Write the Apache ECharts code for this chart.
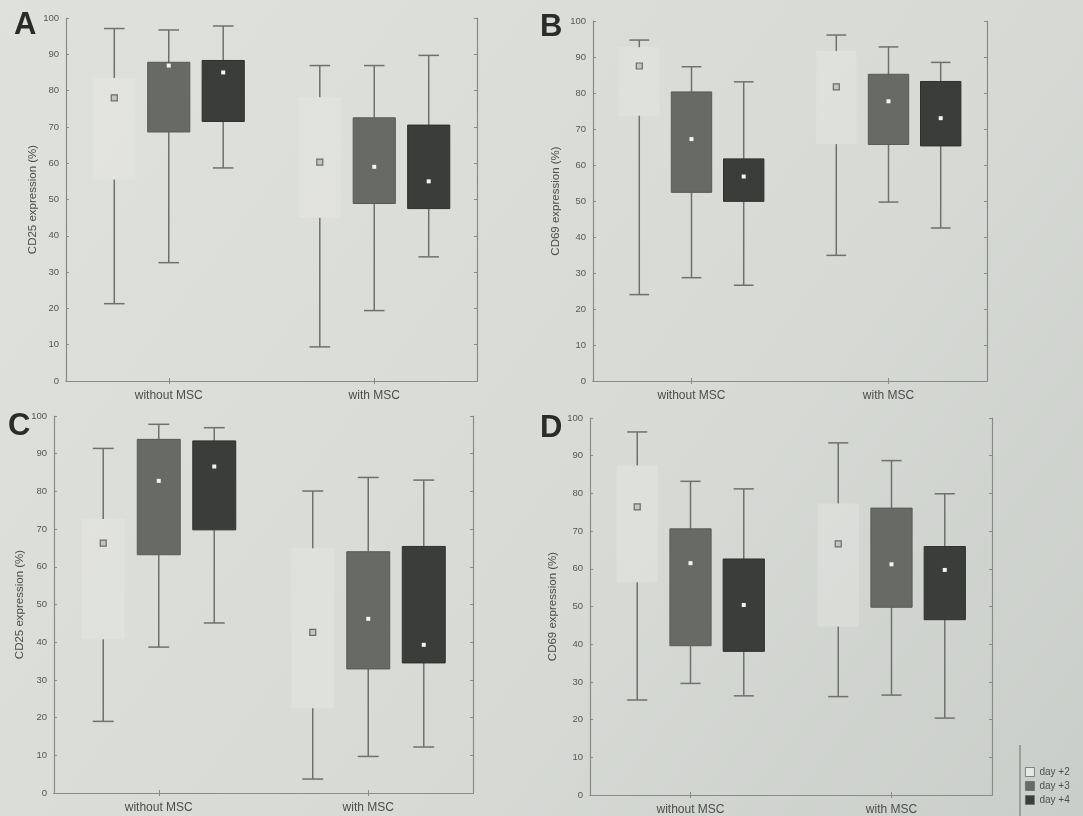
<!DOCTYPE html>
<html>
<head>
<meta charset="utf-8">
<title>CD25 / CD69 expression</title>
<script src="https://cdn.jsdelivr.net/npm/echarts@6/dist/echarts.min.js"></script>
<style>
  html, body { margin: 0; padding: 0; background: #d8dbd6; }
  #chart { width: 1083px; height: 816px; }
</style>
</head>
<body>
<div id="chart"></div>
<script>
// Groups on the category axis and the three culture days (legend entries)
const categories = ['without MSC', 'with MSC'];
const dayNames = ['day +2', 'day +3', 'day +4'];
const yTicks = { min: 0, max: 100, interval: 10 };

// Each box: [min, 25%, median, 75%, max] for "without MSC" then "with MSC"
// Panel A – CD25
const a_day2 = [[21.3, 55.5, 78.0, 83.5, 97.1], [9.4, 45.0, 60.3, 78.2, 86.9]];
const a_day3 = [[32.6, 68.6, 86.9, 87.8, 96.7], [19.4, 48.9, 59.0, 72.5, 86.9]];
const a_day4 = [[58.7, 71.5, 85.0, 88.3, 97.8], [34.2, 47.5, 55.0, 70.5, 89.7]];
// Panel B – CD69
const b_day2 = [[24.0, 73.7, 87.5, 92.7, 94.7], [34.9, 65.8, 81.7, 91.7, 96.1]];
const b_day3 = [[28.7, 52.4, 67.2, 80.3, 87.3], [49.7, 65.7, 77.7, 85.2, 92.8]];
const b_day4 = [[26.6, 49.9, 56.8, 61.7, 83.1], [42.5, 65.3, 73.0, 83.2, 88.5]];
// Panel C – CD25
const c_day2 = [[19.0, 40.8, 66.3, 72.7, 91.4], [3.7, 22.5, 42.6, 64.9, 80.1]];
const c_day3 = [[38.7, 63.2, 82.8, 93.8, 97.8], [9.7, 32.9, 46.2, 64.0, 83.7]];
const c_day4 = [[45.1, 69.8, 86.6, 93.4, 96.9], [12.2, 34.5, 39.3, 65.4, 83.0]];
// Panel D – CD69
const d_day2 = [[25.2, 56.4, 76.4, 87.4, 96.3], [26.1, 44.7, 66.6, 77.3, 93.4]];
const d_day3 = [[29.6, 39.6, 61.5, 70.6, 83.2], [26.5, 49.8, 61.2, 76.1, 88.7]];
const d_day4 = [[26.3, 38.1, 50.4, 62.6, 81.2], [20.4, 46.5, 59.7, 65.9, 79.9]];

const panels = [
  { letter: 'A', title: 'CD25 expression (%)', boxes: [a_day2, a_day3, a_day4],
    grid: { left: 66, top: 18, width: 411, height: 363 }, nameGap: 27, letterPos: [14, 10] },
  { letter: 'B', title: 'CD69 expression (%)', boxes: [b_day2, b_day3, b_day4],
    grid: { left: 593, top: 21, width: 394, height: 360 }, nameGap: 31, letterPos: [540, 12] },
  { letter: 'C', title: 'CD25 expression (%)', boxes: [c_day2, c_day3, c_day4],
    grid: { left: 54, top: 416, width: 419, height: 377 }, nameGap: 28, letterPos: [8, 411] },
  { letter: 'D', title: 'CD69 expression (%)', boxes: [d_day2, d_day3, d_day4],
    grid: { left: 590, top: 418, width: 402, height: 377 }, nameGap: 31, letterPos: [540, 413] }
];

const boxFill = ['rgba(238,240,235,0.3)', '#686a66', '#3b3d3a'];
const boxStroke = ['rgba(0,0,0,0)', '#585a56', '#2e302d'];
const legendFill = ['#e6e8e3', '#686a66', '#3b3d3a'];
const whiskerColor = '#6f716d';
const axisColor = '#8a8c88';
const textColor = '#4c4e4a';

// Draws one box-and-whisker mark per category; slot shifts the box inside the band
function boxRenderer(slot) {
  return function (params, api) {
    const c = api.value(0);
    const band = api.size([1, 0])[0];
    const x = api.coord([c, 0])[0] + (slot - 1) * band * 0.265;
    const y = v => api.coord([c, v])[1];
    const yLo = y(api.value(1)), yQ1 = y(api.value(2)), yMed = y(api.value(3));
    const yQ3 = y(api.value(4)), yHi = y(api.value(5));
    const bw = band * 0.205;
    const cw = band * 0.1;
    const line = { stroke: whiskerColor, lineWidth: 1.5 };
    const marker = slot === 0
      ? { type: 'rect', shape: { x: x - 3, y: yMed - 3, width: 6, height: 6 },
          style: { fill: '#c3c5c0', stroke: '#6a6c68', lineWidth: 1.2 } }
      : { type: 'rect', shape: { x: x - 2, y: yMed - 2, width: 4, height: 4 },
          style: { fill: '#f4f4f0' } };
    return {
      type: 'group',
      children: [
        { type: 'line', shape: { x1: x, y1: yQ3, x2: x, y2: yHi }, style: line },
        { type: 'line', shape: { x1: x - cw / 2, y1: yHi, x2: x + cw / 2, y2: yHi }, style: line },
        { type: 'line', shape: { x1: x, y1: yQ1, x2: x, y2: yLo }, style: line },
        { type: 'line', shape: { x1: x - cw / 2, y1: yLo, x2: x + cw / 2, y2: yLo }, style: line },
        { type: 'rect', shape: { x: x - bw / 2, y: yQ3, width: bw, height: yQ1 - yQ3 },
          style: { fill: boxFill[slot], stroke: boxStroke[slot], lineWidth: 1 } },
        marker
      ]
    };
  };
}

const grids = [], xAxes = [], yAxes = [], series = [], graphics = [];

panels.forEach((p, i) => {
  grids.push(Object.assign({ containLabel: false }, p.grid));
  const tick = { show: true, inside: true, length: 3, lineStyle: { color: axisColor } };
  xAxes.push({
    gridIndex: i, type: 'category', data: categories, position: 'bottom',
    axisLine: { lineStyle: { color: axisColor, width: 1.2 } },
    axisTick: Object.assign({ alignWithLabel: true }, tick),
    axisLabel: { fontSize: 12, color: textColor, margin: 9, fontFamily: 'Liberation Sans, Arial' }
  });
  xAxes.push({
    gridIndex: i, type: 'category', data: categories, position: 'top',
    axisLine: { lineStyle: { color: axisColor, width: 1.2 } },
    axisTick: Object.assign({ alignWithLabel: true }, tick),
    axisLabel: { show: false }
  });
  yAxes.push({
    gridIndex: i, type: 'value', position: 'left',
    min: yTicks.min, max: yTicks.max, interval: yTicks.interval,
    name: p.title, nameLocation: 'middle', nameGap: p.nameGap,
    nameTextStyle: { fontSize: 11.5, color: textColor, fontFamily: 'Liberation Sans, Arial' },
    axisLine: { show: true, lineStyle: { color: axisColor, width: 1.2 } },
    axisTick: tick,
    axisLabel: { fontSize: 9.5, color: '#565854', margin: 7, fontFamily: 'Liberation Sans, Arial' },
    splitLine: { show: false }
  });
  yAxes.push({
    gridIndex: i, type: 'value', position: 'right',
    min: yTicks.min, max: yTicks.max, interval: yTicks.interval,
    axisLine: { show: true, lineStyle: { color: axisColor, width: 1.2 } },
    axisTick: tick, axisLabel: { show: false }, splitLine: { show: false }
  });
  p.boxes.forEach((box, slot) => {
    series.push({
      type: 'custom', name: dayNames[slot],
      xAxisIndex: 2 * i, yAxisIndex: 2 * i,
      itemStyle: { color: legendFill[slot] },
      renderItem: boxRenderer(slot),
      encode: { x: 0, y: [1, 2, 3, 4, 5] },
      data: box.map((b, c) => [c].concat(b))
    });
  });
  graphics.push({
    type: 'text', left: p.letterPos[0], top: p.letterPos[1],
    style: { text: p.letter, fontSize: 31, fontWeight: 'bold', fill: '#2a2c29',
             fontFamily: 'Liberation Sans, Arial' }
  });
});

// Frame edge of the legend box
graphics.push({
  type: 'line', shape: { x1: 1020, y1: 745, x2: 1020, y2: 816 },
  style: { stroke: '#7c7e7a', lineWidth: 1.2 }
});

const chart = echarts.init(document.getElementById('chart'), null, { renderer: 'canvas' });
chart.setOption({
  animation: false,
  backgroundColor: new echarts.graphic.LinearGradient(0, 0, 1, 1, [
    { offset: 0, color: '#dfe1dc' },
    { offset: 0.6, color: '#d7dad5' },
    { offset: 1, color: '#caceca' }
  ]),
  grid: grids,
  xAxis: xAxes,
  yAxis: yAxes,
  legend: {
    data: dayNames, orient: 'vertical', left: 1025, top: 767, padding: 0,
    height: 50,
    icon: 'rect', itemWidth: 9, itemHeight: 9, itemGap: 4,
    itemStyle: { borderColor: '#6a6c68', borderWidth: 0.8 },
    textStyle: { fontSize: 10, color: '#4e504c', fontFamily: 'Liberation Sans, Arial' }
  },
  series: series,
  graphic: graphics
});
</script>
</body>
</html>
